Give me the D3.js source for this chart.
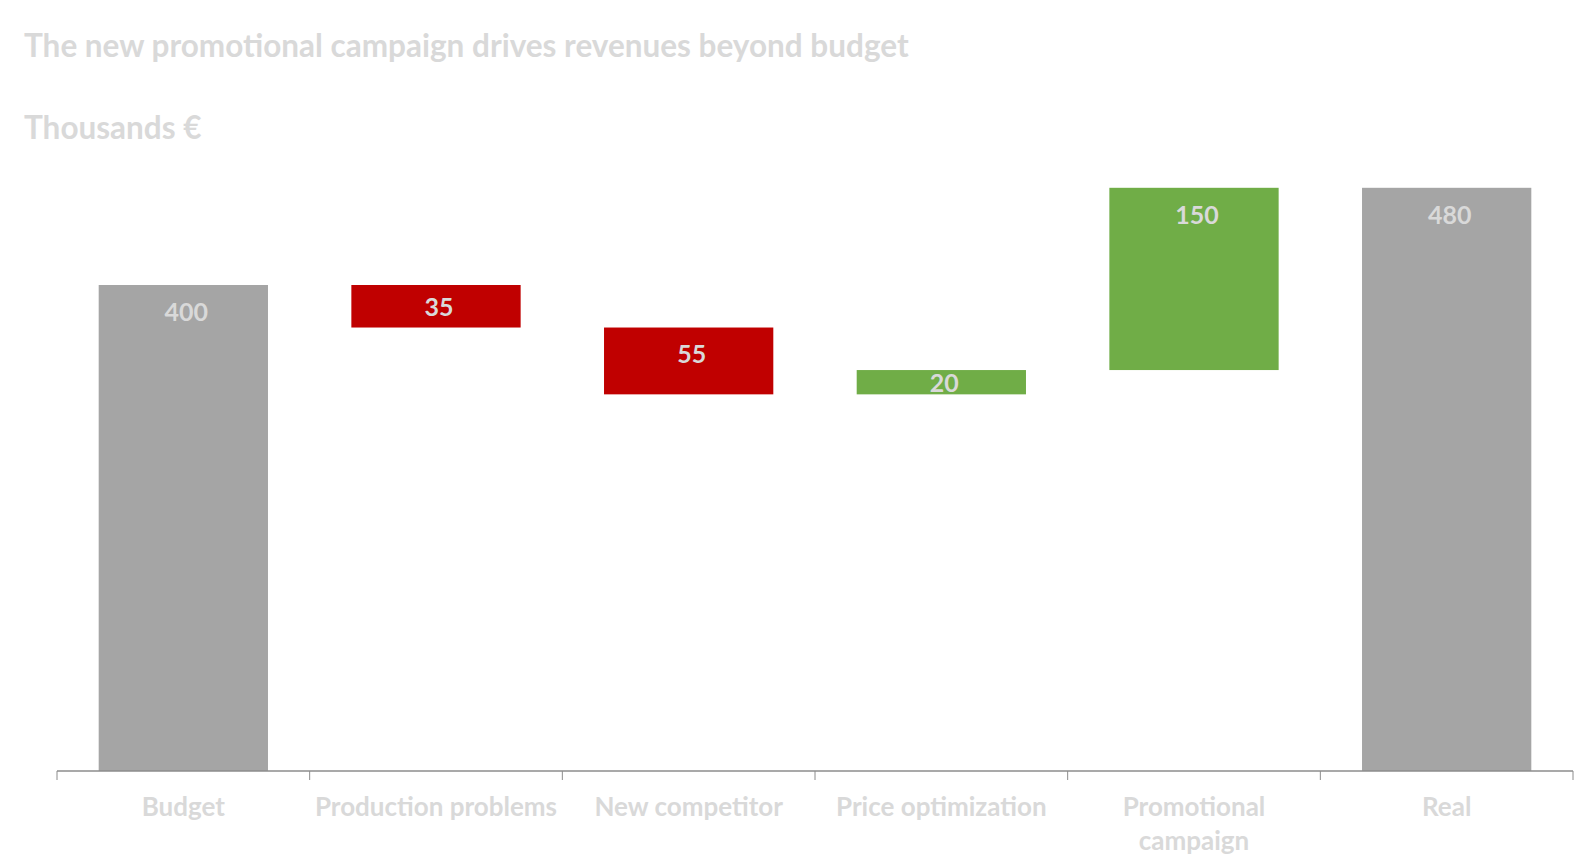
<!DOCTYPE html>
<html>
<head>
<meta charset="utf-8">
<script src="https://cdn.jsdelivr.net/npm/d3@7"></script>
<style>
  html, body { margin: 0; padding: 0; background: #fff; overflow: hidden; }
  svg { display: block; }
  text { font-family: Lato, "Open Sans", sans-serif; font-weight: bold; }
</style>
</head>
<body>
<div id="chart"></div>
<script>
// waterfall: budget -> real, deltas in between
var categories = ["Budget", "Production problems", "New competitor", "Price optimization", "Promotional campaign", "Real"]
var values = [400, -35, -55, 20, 150, 480]
var kinds = ["total", "delta", "delta", "delta", "delta", "total"]

var title = "The new promotional campaign drives revenues beyond budget"
var subtitle = "Thousands €"

var width = 1578, height = 862
var margin = {top: 0, left: 57, right: 5, bottom: 91}

var colors = {total: "#a5a5a5", up: "#70ad47", down: "#c00000"}
var textColor = "#d9d9d9"

// running start/end for every bar
var bars = []
var running = 0
for (var i = 0; i < categories.length; i++) {
    var b = {name: categories[i], value: values[i], kind: kinds[i]}
    if (kinds[i] == "total") {
        b.start = 0
        b.end = values[i]
        running = values[i]
    } else {
        b.start = running
        b.end = running + values[i]
        running = b.end
    }
    bars.push(b)
}

var svg = d3.select("#chart")
    .append("svg")
    .attr("width", width)
    .attr("height", height)

var x = d3.scaleBand()
    .domain(categories)
    .range([margin.left, width - margin.right])
    .padding(0)

var y = d3.scaleLinear()
    .domain([0, 400])
    .range([height - margin.bottom, 285])

var barW = x.bandwidth() * 0.67

svg.append("text")
    .attr("x", 24)
    .attr("y", 57)
    .attr("fill", textColor)
    .style("font-size", "31.5px")
    .text(title)

svg.append("text")
    .attr("x", 24)
    .attr("y", 139)
    .attr("fill", textColor)
    .style("font-size", "31.5px")
    .text(subtitle)

svg.selectAll(".bar")
    .data(bars)
    .enter()
    .append("rect")
    .attr("class", "bar")
    .attr("x", function (d) { return x(d.name) + (x.bandwidth() - barW) / 2 })
    .attr("y", function (d) { return y(Math.max(d.start, d.end)) })
    .attr("width", barW)
    .attr("height", function (d) { return Math.abs(y(d.start) - y(d.end)) })
    .attr("fill", function (d) {
        if (d.kind == "total") return colors.total
        return d.value > 0 ? colors.up : colors.down
    })

// labels sit near the top of the bar, or in the middle of short ones
svg.selectAll(".val")
    .data(bars)
    .enter()
    .append("text")
    .attr("class", "val")
    .attr("x", function (d) { return x(d.name) + x.bandwidth() / 2 + 3 })
    .attr("y", function (d) {
        var top = y(Math.max(d.start, d.end))
        var bottom = y(Math.min(d.start, d.end))
        return Math.min(top + 27, (top + bottom) / 2 + 1)
    })
    .attr("dy", "0.35em")
    .attr("text-anchor", "middle")
    .attr("fill", textColor)
    .style("font-size", "25px")
    .text(function (d) { return Math.abs(d.value) })

// x axis
var axis = svg.append("g")
    .attr("transform", "translate(0," + y(0) + ")")

axis.append("line")
    .attr("x1", margin.left)
    .attr("x2", width - margin.right)
    .attr("stroke", "#8c8c8c")
    .attr("stroke-width", 1.5)

var bounds = categories.map(function (c) { return x(c) })
bounds.push(width - margin.right)

axis.selectAll(".tick")
    .data(bounds)
    .enter()
    .append("line")
    .attr("class", "tick")
    .attr("x1", function (d) { return d })
    .attr("x2", function (d) { return d })
    .attr("y1", 0)
    .attr("y2", 9)
    .attr("stroke", "#8c8c8c")
    .attr("stroke-width", 1)

axis.selectAll(".lbl")
    .data(categories)
    .enter()
    .append("text")
    .attr("class", "lbl")
    .attr("text-anchor", "middle")
    .attr("fill", textColor)
    .style("font-size", "26px")
    .each(function (d) {
        var t = d3.select(this)
        var cx = x(d) + x.bandwidth() / 2
        var lines = d == "Promotional campaign" ? ["Promotional", "campaign"] : [d]
        lines.forEach(function (l, i) {
            t.append("tspan")
                .attr("x", cx)
                .attr("y", 45 + i * 34)
                .text(l)
        })
    })
</script>
</body>
</html>
